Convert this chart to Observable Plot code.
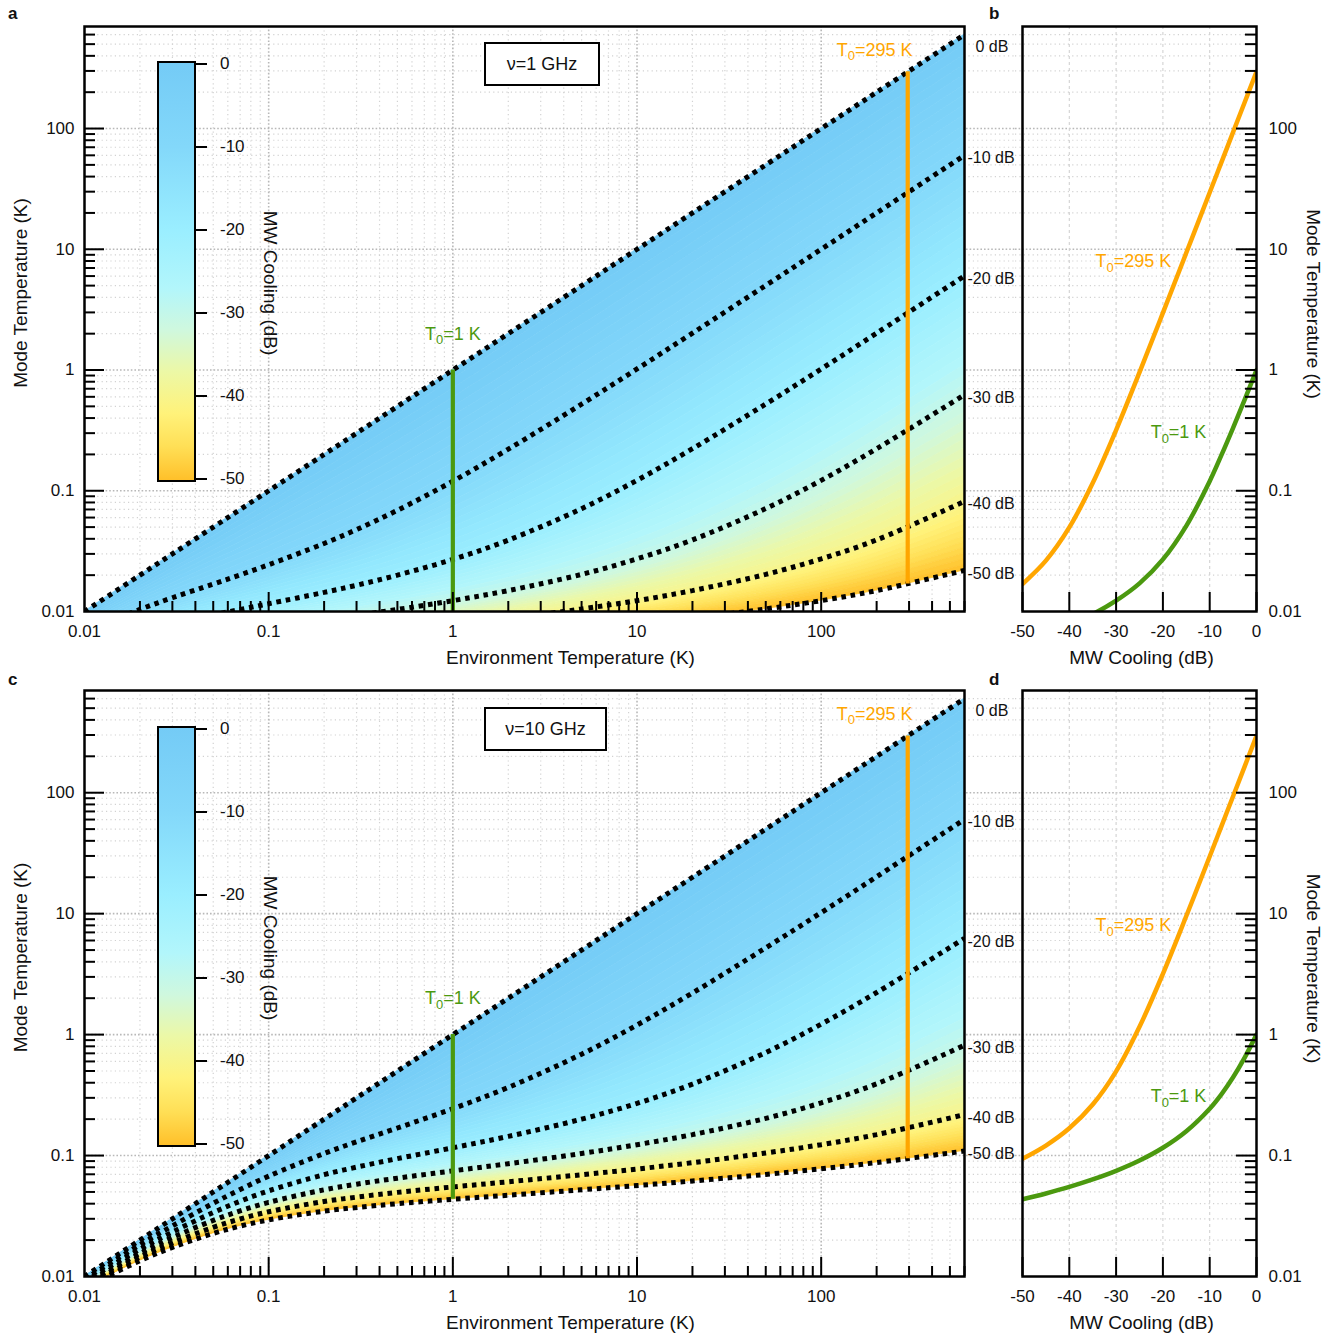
<!DOCTYPE html>
<html><head><meta charset="utf-8">
<script src="https://cdn.jsdelivr.net/npm/d3@7"></script>
<script src="https://cdn.jsdelivr.net/npm/@observablehq/plot@0.6"></script>
<style>
body{margin:0;background:#fff;}
#root{position:relative;width:1336px;height:1335px;overflow:hidden;font-family:"Liberation Sans",Arial,Helvetica,sans-serif;color:#111;}
.letter{position:absolute;font-weight:bold;font-size:17px;}
.nubox{position:absolute;box-sizing:border-box;border:2.5px solid #000;display:flex;align-items:center;justify-content:center;font-size:18px;background:#fff;}
.cbar{position:absolute;box-sizing:border-box;border:2.5px solid #000;}
.ctick{position:absolute;height:2px;width:12px;background:#000;}
.clab{position:absolute;font-size:17px;line-height:20px;}
.ctitle{position:absolute;font-size:19px;white-space:nowrap;transform:translate(-50%,-50%) rotate(90deg);}
</style></head><body><div id="root"></div>
<script>
// ---------- data ----------
const envTemperature = [0.01,0.02,0.03,0.05,0.07,0.1,0.2,0.3,0.5,1,2,5,10,20,50,100,200,600];
const coolingLevels = [0,-10,-20,-30,-40,-50];

// panel a: nu = 1 GHz, mode temperature (K) for each cooling level
const mode1GHz_0dB   = [0.01,0.02,0.03,0.05,0.07,0.1,0.2,0.3,0.5,1,2,5,10,20,50,100,200,600];
const mode1GHz_m10dB = [0.0068,0.0104,0.0130,0.0169,0.0201,0.0244,0.0366,0.0477,0.0689,0.120,0.221,0.522,1.02,2.02,5.02,10.0,20.0,60.0];
const mode1GHz_m20dB = [0.0051,0.0070,0.0080,0.0094,0.0104,0.0116,0.0144,0.0165,0.0200,0.0270,0.0390,0.0711,0.122,0.223,0.523,1.02,2.02,6.02];
const mode1GHz_m30dB = [0.0041,0.0052,0.0058,0.0065,0.0070,0.0075,0.0086,0.0093,0.0104,0.0123,0.0149,0.0203,0.0273,0.0392,0.0713,0.122,0.223,0.624];
const mode1GHz_m40dB = [0.0034,0.0042,0.0045,0.0050,0.0052,0.0055,0.0061,0.0064,0.0069,0.0077,0.0087,0.0105,0.0123,0.0149,0.0203,0.0273,0.0392,0.0817];
const mode1GHz_m50dB = [0.0029,0.0035,0.0037,0.0040,0.0042,0.0044,0.0047,0.0049,0.0052,0.0057,0.0062,0.0070,0.0078,0.0088,0.0105,0.0123,0.0149,0.0219];

// panel c: nu = 10 GHz
const mode10GHz_0dB   = [0.01,0.02,0.03,0.05,0.07,0.1,0.2,0.3,0.5,1,2,5,10,20,50,100,200,600];
const mode10GHz_m10dB = [0.0095,0.0183,0.0262,0.0403,0.0524,0.0676,0.104,0.130,0.169,0.244,0.366,0.689,1.20,2.21,5.22,10.2,20.2,60.2];
const mode10GHz_m20dB = [0.0091,0.0168,0.0233,0.0338,0.0419,0.0511,0.0695,0.0802,0.0943,0.116,0.144,0.200,0.270,0.390,0.711,1.22,2.23,6.24];
const mode10GHz_m30dB = [0.0087,0.0155,0.0210,0.0291,0.0349,0.0410,0.0521,0.0580,0.0650,0.0747,0.0856,0.104,0.123,0.149,0.203,0.273,0.392,0.816];
const mode10GHz_m40dB = [0.0084,0.0145,0.0190,0.0255,0.0299,0.0343,0.0417,0.0453,0.0496,0.0550,0.0607,0.0694,0.0774,0.0873,0.105,0.123,0.149,0.218];
const mode10GHz_m50dB = [0.0081,0.0135,0.0174,0.0227,0.0261,0.0294,0.0347,0.0372,0.0400,0.0435,0.0470,0.0521,0.0565,0.0616,0.0698,0.0777,0.0875,0.109];

// panels b, d: mode temperature vs MW cooling
const coolingDb = [-50,-45,-40,-35,-30,-25,-20,-15,-10,-7.5,-5,-2.5,0];
const hotT0 = 295, coldT0 = 1;
const hot1GHz   = [0.0169,0.0264,0.0497,0.116,0.318,0.956,2.97,9.35,29.5,52.5,93.3,166,295];
const cold1GHz  = [0.0057,0.0065,0.0077,0.0095,0.0123,0.0171,0.0270,0.0512,0.120,0.197,0.332,0.572,1.0];
const hot10GHz  = [0.0941,0.121,0.168,0.264,0.497,1.16,3.18,9.56,29.7,52.7,93.5,166,295];
const cold10GHz = [0.0435,0.0486,0.0550,0.0634,0.0747,0.0909,0.116,0.159,0.244,0.321,0.444,0.649,1.0];

// axis tick values
const logMajor = [0.01,0.1,1,10,100];
const coolTicks = [-50,-40,-30,-20,-10,0];
const colorbarTicks = [0,-10,-20,-30,-40,-50];

// ---------- styles ----------
const FONT = '"Liberation Sans", Arial, Helvetica, sans-serif';
const GREEN = "#4b990f", ORANGE = "#ffa600";
const rampDb = [0,-10,-20,-27,-32,-37,-42,-46,-50];
const rampColors = ["#74cbf6","#83d8fa","#9aeeff","#b2f6fb","#cff8de","#ecf8a6","#fff27a","#ffdf56","#ffc02a"];
const coolColor = d3.scaleLinear().domain(rampDb).range(rampColors).interpolate(d3.interpolateRgb).clamp(true);

const minorOf = (majors, max) => majors.flatMap(d => [2,3,4,5,6,7,8,9].map(m => +(m*d).toPrecision(3))).filter(v => v <= max);
const envMinor = minorOf(logMajor, 600);
const modeMinor = minorOf(logMajor, 600);
const innerMajor = [0.1,1,10,100];

const gridMinor = {stroke:"#d2d2d2", strokeWidth:1.2, strokeDasharray:"1.2,3.2"};
const gridMajor = {stroke:"#b8b8b8", strokeWidth:1.6, strokeDasharray:"1.6,2"};
const txt = {fontFamily: FONT, fill: "#111", lineAnchor: "middle"};

function bandTable(curves) {
  const rows = [], S = 12;
  for (let k = 0; k < curves.length - 1; k++) {
    const up = curves[k], lo = curves[k+1];
    for (let j = 0; j < S; j++) {
      const t0 = j/S, t1 = (j+1)/S;
      const db = coolingLevels[k] + (coolingLevels[k+1]-coolingLevels[k])*(j+0.5)/S;
      const c = coolColor(db);
      envTemperature.forEach((x,i) => {
        const a = Math.log(up[i]), b = Math.log(lo[i]);
        rows.push({x, y1: Math.exp(a+(b-a)*t0), y2: Math.exp(a+(b-a)*t1), strip: k*S+j, color: c});
      });
    }
  }
  return rows;
}

function subscriptZero(svg) {
  d3.select(svg).selectAll("text").each(function() {
    const el = this;
    if (el.textContent.includes("₀") && el.childNodes.length === 1) {
      const [pre, post] = el.textContent.split("₀");
      el.textContent = "";
      const s = d3.select(el);
      s.append("tspan").text(pre);
      s.append("tspan").attr("font-size","72%").attr("dy","0.35em").text("0");
      s.append("tspan").attr("dy","-0.252em").text(post);
    }
  });
}

function envPanel({curves, hot, cold, height, marginTop, marginBottom}) {
  const plotW = 880, plotH = height - marginTop - marginBottom;
  const rows = bandTable(curves);
  const lineRows = curves.flatMap((c,k) => envTemperature.map((x,i) => ({x, y: c[i], level: coolingLevels[k]})));
  const ends = curves.map((c,k) => ({x: envTemperature[envTemperature.length-1], y: c[c.length-1], label: `${coolingLevels[k]} dB`}));
  const verticals = [
    {x: coldT0, y1: cold[0], y2: cold[cold.length-1], color: GREEN},
    {x: hotT0, y1: hot[0], y2: hot[hot.length-1], color: ORANGE}
  ];
  const svg = Plot.plot({
    width: 1015, height, marginLeft: 84, marginRight: 51, marginTop, marginBottom,
    x: {type: "log", domain: [0.01, 600], axis: null},
    y: {type: "log", domain: [0.01, 700], axis: null},
    color: {type: "identity"},
    style: {background: "transparent", overflow: "visible"},
    marks: [
      Plot.ruleX(envMinor, {x: d => d, ...gridMinor}),
      Plot.ruleY(modeMinor, {y: d => d, insetRight: -51, ...gridMinor}),
      Plot.ruleX(innerMajor, {x: d => d, ...gridMajor}),
      Plot.ruleY(innerMajor, {y: d => d, insetRight: -51, ...gridMajor}),
      Plot.areaY(rows, {x: "x", y1: "y1", y2: "y2", z: "strip", fill: "color", stroke: "color", strokeWidth: 0.7, curve: "catmull-rom", clip: true}),
      Plot.line(lineRows, {x: "x", y: "y", z: "level", stroke: "#000", strokeWidth: 5, strokeDasharray: "4.6,4.8", strokeLinecap: "butt", strokeLinejoin: "miter", curve: "catmull-rom", clip: true}),
      Plot.ruleX(verticals, {x: "x", y1: "y1", y2: "y2", stroke: "color", strokeWidth: 4.2, clip: true}),
      // inward ticks
      Plot.tickY(innerMajor, {y: d => d, insetRight: plotW - 20, stroke: "#000", strokeWidth: 2}),
      Plot.tickY(modeMinor, {y: d => d, insetRight: plotW - 11, stroke: "#000", strokeWidth: 2}),
      Plot.tickX(innerMajor, {x: d => d, insetTop: plotH - 19, stroke: "#000", strokeWidth: 2}),
      Plot.tickX(envMinor, {x: d => d, insetTop: plotH - 10, stroke: "#000", strokeWidth: 2}),
      // tick labels
      Plot.text(logMajor, {y: d => d, text: d => String(d), frameAnchor: "left", dx: -10, textAnchor: "end", fontSize: 17, ...txt}),
      Plot.text(logMajor, {x: d => d, text: d => String(d), frameAnchor: "bottom", dy: 20, textAnchor: "middle", fontSize: 17, ...txt}),
      Plot.text(["Environment Temperature (K)"], {text: d => d, frameAnchor: "bottom", dx: 46, dy: 46, textAnchor: "middle", fontSize: 19, ...txt}),
      Plot.text(["Mode Temperature (K)"], {text: d => d, frameAnchor: "left", dx: -64, dy: -26, rotate: -90, textAnchor: "middle", fontSize: 19, ...txt}),
      // curve end labels
      Plot.text(ends.slice(0,1), {x: "x", y: "y", text: "label", textAnchor: "start", dx: 11, dy: 12, fontSize: 16, ...txt}),
      Plot.text(ends.slice(1), {x: "x", y: "y", text: "label", textAnchor: "start", dx: 3, dy: 3, fontSize: 16, ...txt}),
      // T0 annotations
      Plot.text([{x: coldT0, y: cold[cold.length-1]}], {x: "x", y: "y", text: () => "T₀=1 K", dy: -36, textAnchor: "middle", lineAnchor: "middle", fontSize: 18, fontFamily: FONT, fill: GREEN}),
      Plot.text([{x: hotT0, y: hot[hot.length-1]}], {x: "x", y: "y", text: () => "T₀=295 K", dx: -33, dy: -22, textAnchor: "middle", lineAnchor: "middle", fontSize: 18, fontFamily: FONT, fill: ORANGE}),
      Plot.frame({stroke: "#000", strokeWidth: 2.5})
    ]
  });
  subscriptZero(svg);
  return svg;
}

function coolPanel({hot, cold, height, marginTop, marginBottom}) {
  const plotW = 234, plotH = height - marginTop - marginBottom;
  const series = [
    ...coolingDb.map((x,i) => ({x, y: hot[i], color: ORANGE, s: "hot"})),
    ...coolingDb.map((x,i) => ({x, y: cold[i], color: GREEN, s: "cold"}))
  ];
  const svg = Plot.plot({
    width: 321, height, marginLeft: 7, marginRight: 80, marginTop, marginBottom,
    x: {domain: [-50, 0], axis: null},
    y: {type: "log", domain: [0.01, 700], axis: null},
    color: {type: "identity"},
    style: {background: "transparent", overflow: "visible"},
    marks: [
      Plot.ruleY(modeMinor, {y: d => d, insetLeft: -7, ...gridMinor}),
      Plot.ruleY(innerMajor, {y: d => d, insetLeft: -7, ...gridMajor}),
      Plot.ruleX(coolTicks.slice(1, -1), {x: d => d, stroke: "#d2d2d2", strokeWidth: 1.1, strokeDasharray: "3,3"}),
      Plot.line(series, {x: "x", y: "y", z: "s", stroke: "color", strokeWidth: 4.5, curve: "catmull-rom", clip: true}),
      Plot.tickY(innerMajor, {y: d => d, insetLeft: plotW - 20, stroke: "#000", strokeWidth: 2}),
      Plot.tickY(modeMinor, {y: d => d, insetLeft: plotW - 11, stroke: "#000", strokeWidth: 2}),
      Plot.tickX(coolTicks, {x: d => d, insetTop: plotH - 19, stroke: "#000", strokeWidth: 2}),
      Plot.text(logMajor, {y: d => d, text: d => String(d), frameAnchor: "right", dx: 12, textAnchor: "start", fontSize: 17, ...txt}),
      Plot.text(coolTicks, {x: d => d, text: d => String(d), frameAnchor: "bottom", dy: 20, textAnchor: "middle", fontSize: 17, ...txt}),
      Plot.text(["MW Cooling (dB)"], {text: d => d, frameAnchor: "bottom", dx: 2, dy: 46, textAnchor: "middle", fontSize: 19, ...txt}),
      Plot.text(["Mode Temperature (K)"], {text: d => d, frameAnchor: "right", dx: 57, dy: -15, rotate: 90, textAnchor: "middle", fontSize: 19, ...txt}),
      Plot.text(["T₀=295 K"], {text: d => d, frameAnchor: "top-left", dx: 111, dy: 235, textAnchor: "middle", lineAnchor: "middle", fontSize: 18, fontFamily: FONT, fill: ORANGE}),
      Plot.text(["T₀=1 K"], {text: d => d, frameAnchor: "top-left", dx: 156, dy: 406, textAnchor: "middle", lineAnchor: "middle", fontSize: 18, fontFamily: FONT, fill: GREEN}),
      Plot.frame({stroke: "#000", strokeWidth: 2.5})
    ]
  });
  subscriptZero(svg);
  return svg;
}

const root = document.getElementById("root");
function place(el, left, top) {
  el.style.position = "absolute"; el.style.left = left + "px"; el.style.top = top + "px";
  el.style.background = "transparent"; el.style.maxWidth = "none";
  root.appendChild(el);
}

place(coolPanel({hot: hot1GHz, cold: cold1GHz, height: 665, marginTop: 26, marginBottom: 54}), 1015, 0);
place(coolPanel({hot: hot10GHz, cold: cold10GHz, height: 670, marginTop: 25, marginBottom: 59}), 1015, 665);
place(envPanel({curves: [mode1GHz_0dB, mode1GHz_m10dB, mode1GHz_m20dB, mode1GHz_m30dB, mode1GHz_m40dB, mode1GHz_m50dB],
  hot: hot1GHz, cold: cold1GHz, height: 665, marginTop: 26, marginBottom: 54}), 0, 0);
place(envPanel({curves: [mode10GHz_0dB, mode10GHz_m10dB, mode10GHz_m20dB, mode10GHz_m30dB, mode10GHz_m40dB, mode10GHz_m50dB],
  hot: hot10GHz, cold: cold10GHz, height: 670, marginTop: 25, marginBottom: 59}), 0, 665);

// colorbars, frequency boxes, panel letters
function div(cls, css, text) {
  const d = document.createElement("div"); d.className = cls;
  Object.assign(d.style, css); if (text != null) d.textContent = text; root.appendChild(d); return d;
}
const gradient = "linear-gradient(to bottom," + rampDb.map((db,i) => `${rampColors[i]} ${(-db/50*100).toFixed(1)}%`).join(",") + ")";
function colorbar(top0) {
  div("cbar", {left: "157px", top: (top0-2) + "px", width: "39px", height: "421px", background: gradient});
  colorbarTicks.forEach(db => {
    const y = top0 + 1 + (-db/50)*415;
    div("ctick", {left: "195px", top: (y-1) + "px"});
    div("clab", {left: "220px", top: (y-10) + "px"}, String(db));
  });
  div("ctitle", {left: "270px", top: (top0 + 220) + "px"}, "MW Cooling (dB)");
}
colorbar(63);
colorbar(728);
div("nubox", {left: "484px", top: "42px", width: "116px", height: "44px"}, "ν=1 GHz");
div("nubox", {left: "484px", top: "707px", width: "123px", height: "44px"}, "ν=10 GHz");
div("letter", {left: "8px", top: "4px"}, "a");
div("letter", {left: "989px", top: "4px"}, "b");
div("letter", {left: "8px", top: "670px"}, "c");
div("letter", {left: "989px", top: "670px"}, "d");
</script></body></html>
